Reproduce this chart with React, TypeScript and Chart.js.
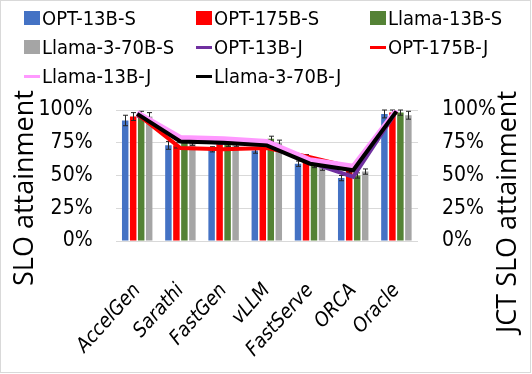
import React, { useEffect, useRef } from 'react';
import { Chart, registerables } from 'chart.js';

Chart.register(...registerables);

const categories = ['AccelGen', 'Sarathi', 'FastGen', 'vLLM', 'FastServe', 'ORCA', 'Oracle'];

const barLabels = ['OPT-13B-S', 'OPT-175B-S', 'Llama-13B-S', 'Llama-3-70B-S'];
const lineLabels = ['OPT-13B-J', 'OPT-175B-J', 'Llama-13B-J', 'Llama-3-70B-J'];

const opt13S = [92, 73, 70, 69, 59, 48, 97];
const opt175S = [95, 73, 76, 75, 63, 54, 98];
const llama13S = [97, 77, 74, 78, 58, 50, 98];
const llama70S = [95, 75, 74, 75, 56, 53, 96];

const opt13SErr = [4, 3, 2, 2, 2, 2, 3];
const opt175SErr = [3, 2, 2, 2, 3, 2, 2];
const llama13SErr = [2, 2, 2, 2, 2, 2, 2];
const llama70SErr = [3, 2, 2, 2, 2, 2, 3];

const opt13J = [96, 77, 75, 74, 60, 49, 99];
const opt175J = [97, 71, 70, 71, 64, 56, 99];
const llama13J = [98, 79, 78, 76, 62, 57, 100];
const llama70J = [97, 76, 75, 73, 59, 54, 99];

const yTicks = [0, 25, 50, 75, 100];

const barColors = ['#4472C4', '#FF0000', '#548235', '#A5A5A5'];
const lineColors = ['#7030A0', '#FF0000', '#FF99FF', '#000000'];

const FONT_NARROW = "'DejaVu Sans Condensed', 'DejaVu Sans', sans-serif";
const FONT_TITLE = "'Open Sans', 'Noto Sans', sans-serif";

const errorBarPlugin = {
  id: 'errorBars',
  afterDatasetDraw(chart: any, args: any) {
    const ds = chart.data.datasets[args.index];
    if (!ds.errors) return;
    const meta = args.meta;
    const yScale = chart.scales[ds.yAxisID || 'y'];
    const ctx = chart.ctx;
    ctx.save();
    ctx.strokeStyle = '#262626';
    ctx.lineWidth = 1;
    meta.data.forEach((bar: any, i: number) => {
      const v = ds.data[i];
      const e = ds.errors[i];
      const x = Math.round(bar.x) + 0.5;
      const yTop = yScale.getPixelForValue(v + e);
      const yBot = yScale.getPixelForValue(v - e);
      ctx.beginPath();
      ctx.moveTo(x, yTop);
      ctx.lineTo(x, yBot);
      ctx.moveTo(x - 2.5, yTop);
      ctx.lineTo(x + 2.5, yTop);
      ctx.moveTo(x - 2.5, yBot);
      ctx.lineTo(x + 2.5, yBot);
      ctx.stroke();
    });
    ctx.restore();
  },
};

const titlesPlugin = {
  id: 'axisTitles',
  afterDraw(chart: any) {
    const ctx = chart.ctx;
    ctx.save();
    ctx.fillStyle = '#000';
    ctx.font = `27px ${FONT_TITLE}`;
    ctx.textAlign = 'center';
    ctx.textBaseline = 'middle';
    ctx.translate(25, 188);
    ctx.rotate(-Math.PI / 2);
    ctx.fillText('SLO attainment', 0, 0);
    ctx.restore();

    ctx.save();
    ctx.fillStyle = '#000';
    ctx.font = `27px ${FONT_TITLE}`;
    ctx.textAlign = 'center';
    ctx.textBaseline = 'middle';
    ctx.translate(508, 212);
    ctx.rotate(-Math.PI / 2);
    ctx.fillText('JCT SLO attainment', 0, 0);
    ctx.restore();

    ctx.save();
    ctx.strokeStyle = '#D9D9D9';
    ctx.lineWidth = 1;
    ctx.strokeRect(0.5, 0.5, 530, 372);
    ctx.restore();
  },
};

export default function App() {
  const ref = useRef<HTMLCanvasElement | null>(null);

  useEffect(() => {
    if (!ref.current) return;
    const barData = [opt13S, opt175S, llama13S, llama70S];
    const barErr = [opt13SErr, opt175SErr, llama13SErr, llama70SErr];
    const lineData = [opt13J, opt175J, llama13J, llama70J];
    const lineOrder = [3, 2, 1, 0];
    const lineWidths = [4, 4, 5, 4];

    const datasets: any[] = [];
    barData.forEach((d, i) => {
      datasets.push({
        type: 'bar',
        label: barLabels[i],
        data: d,
        errors: barErr[i],
        backgroundColor: barColors[i],
        yAxisID: 'y',
        order: 10,
        categoryPercentage: 0.74,
        barPercentage: 0.81,
      });
    });
    lineData.forEach((d, i) => {
      datasets.push({
        type: 'line',
        label: lineLabels[i],
        data: d,
        borderColor: lineColors[i],
        backgroundColor: lineColors[i],
        borderWidth: lineWidths[i],
        pointRadius: 0,
        tension: 0,
        yAxisID: 'y1',
        order: lineOrder[i],
      });
    });

    const chart = new Chart(ref.current, {
      type: 'bar',
      data: { labels: categories, datasets },
      options: {
        responsive: false,
        animation: false,
        layout: { padding: { top: 110, left: 0, right: 0, bottom: 0 } },
        plugins: {
          legend: { display: false },
          tooltip: { enabled: false },
        },
        scales: {
          x: {
            grid: { display: false },
            border: { display: false },
            ticks: {
              color: '#000',
              font: { family: FONT_NARROW, size: 20, style: 'italic' },
              minRotation: 48,
              maxRotation: 48,
              padding: 30,
            },
            afterFit: (s: any) => {
              s.height = 133;
            },
          },
          y: {
            position: 'left',
            min: 0,
            max: 100,
            afterBuildTicks: (s: any) => {
              s.ticks = yTicks.map((v) => ({ value: v }));
            },
            grid: { color: '#D9D9D9', lineWidth: 1, drawTicks: false },
            border: { display: false },
            ticks: {
              color: '#000',
              padding: 23,
              font: { family: FONT_NARROW, size: 21 },
              callback: (v: any) => `${v}%`,
            },
            afterFit: (s: any) => {
              s.width = 115.6;
            },
          },
          y1: {
            position: 'right',
            min: 0,
            max: 100,
            afterBuildTicks: (s: any) => {
              s.ticks = yTicks.map((v) => ({ value: v }));
            },
            grid: { display: false, drawTicks: false },
            border: { display: false },
            ticks: {
              color: '#000',
              padding: 24,
              font: { family: FONT_NARROW, size: 21 },
              callback: (v: any) => `${v}%`,
            },
            afterFit: (s: any) => {
              s.width = 114;
            },
          },
        },
      } as any,
      plugins: [errorBarPlugin, titlesPlugin],
    });
    return () => chart.destroy();
  }, []);

  const legendItems = [
    ...barLabels.map((l, i) => ({ label: l, color: barColors[i], kind: 'box' })),
    ...lineLabels.map((l, i) => ({ label: l, color: lineColors[i], kind: 'line' })),
  ];
  const colX = [24, 196, 370];
  const rowY = [18, 47, 76];

  return (
    <div style={{ position: 'absolute', left: 0, top: 0, width: 532, height: 374, background: '#fff' }}>
      <canvas ref={ref} width={532} height={374} style={{ position: 'absolute', left: 0, top: 0 }} />
      {legendItems.map((it, i) => {
        const c = i % 3;
        const r = Math.floor(i / 3);
        return (
          <div
            key={it.label}
            style={{
              position: 'absolute',
              left: colX[c],
              top: rowY[r] - 14,
              height: 28,
              display: 'flex',
              alignItems: 'center',
              fontFamily: FONT_NARROW,
              fontSize: 20,
              color: '#000',
              whiteSpace: 'nowrap',
            }}
          >
            <span
              style={{
                display: 'inline-block',
                width: 16,
                height: it.kind === 'box' ? 14 : 3,
                background: it.color,
                marginRight: 2,
              }}
            />
            <span>{it.label}</span>
          </div>
        );
      })}
    </div>
  );
}
